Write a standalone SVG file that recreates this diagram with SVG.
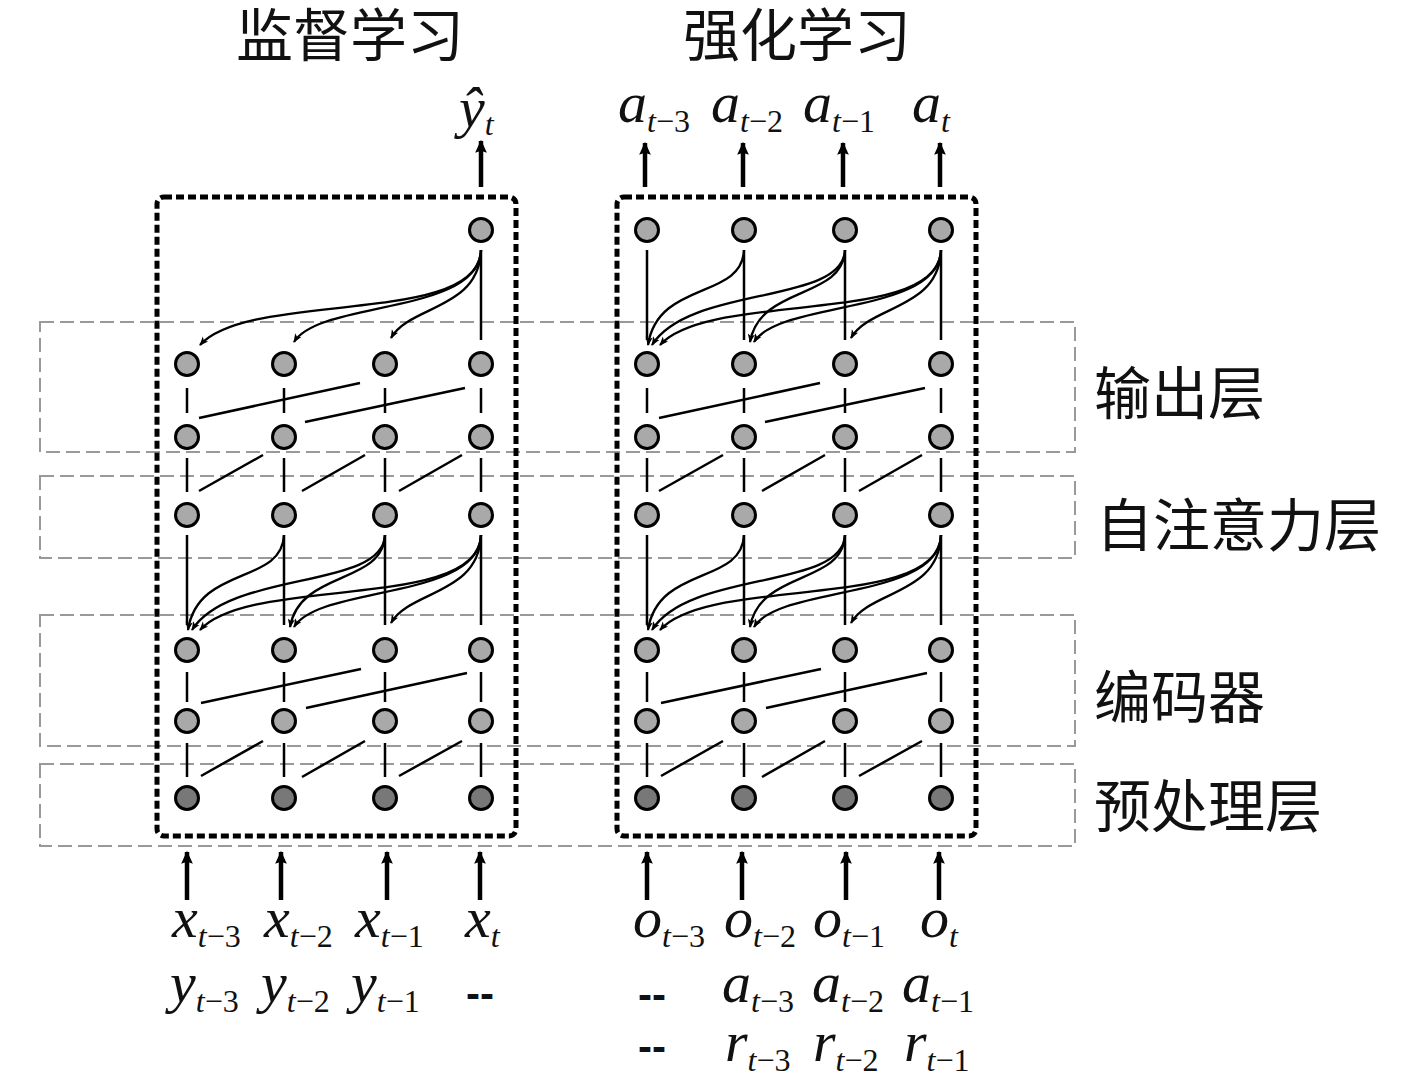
<svg xmlns="http://www.w3.org/2000/svg" width="1417" height="1092" viewBox="0 0 1417 1092">
<style>
.n{fill:#a9a9a9;stroke:#000;stroke-width:3}
.d{fill:#787878;stroke:#000;stroke-width:3}
.c{fill:none;stroke:#000;stroke-width:2.5}
.ca{fill:none;stroke:#000;stroke-width:2.3;marker-end:url(#ah)}
.io{fill:none;stroke:#000;stroke-width:4.5;marker-end:url(#big)}
.box{fill:none;stroke:#000;stroke-width:5;stroke-dasharray:8 4}
.lay{fill:none;stroke:#999;stroke-width:2;stroke-dasharray:14 6}
.cn{font-family:"Noto Sans CJK SC",sans-serif;font-size:57px;fill:#111}
.m{font-family:"Liberation Serif",serif;font-style:italic;font-size:58px;fill:#111}
.s{font-size:32px}
.sn{font-style:normal}
.dash{font-family:"Liberation Sans",sans-serif;font-weight:bold;font-size:42px;fill:#111}
</style>
<defs>
<marker id="ah" viewBox="0 0 10 10" refX="9" refY="5" markerWidth="11" markerHeight="9" markerUnits="userSpaceOnUse" orient="auto"><path d="M0,1 L10,5 L0,9 L2.5,5 z" fill="#000"/></marker>
<marker id="big" viewBox="0 0 10 10" refX="9" refY="5" markerWidth="16" markerHeight="13" markerUnits="userSpaceOnUse" orient="auto"><path d="M0,0.5 L10,5 L0,9.5 L1.5,5 z" fill="#000"/></marker>
</defs>
<rect width="1417" height="1092" fill="#fff"/>

<g id="titles">
<text class="cn" x="350" y="56" text-anchor="middle">监督学习</text>
<text class="cn" x="797" y="56" text-anchor="middle">强化学习</text>
</g>

<g id="layers">
<rect class="lay" x="40" y="322" width="1035" height="130"/>
<rect class="lay" x="40" y="476" width="1035" height="82"/>
<rect class="lay" x="40" y="615" width="1035" height="131"/>
<rect class="lay" x="40" y="764" width="1035" height="82"/>
<text class="cn" x="1094" y="414">输出层</text>
<text class="cn" x="1096" y="546">自注意力层</text>
<text class="cn" x="1094" y="718">编码器</text>
<text class="cn" x="1094" y="827">预处理层</text>
</g>

<g id="panels">
<rect class="box" x="157" y="197" width="359" height="639" rx="7"/>
<rect class="box" x="617" y="197" width="359" height="639" rx="7"/>
</g>

<g id="connectors">
<g id="left-conn">
<g id="attn-top-left" transform="translate(0,-285)">
<path class="c" d="M481,535 V625"/>
<path class="ca" d="M481,535 C479,612 250,575 200,630"/>
<path class="ca" d="M481,535 C479,600 320,585 294,627"/>
<path class="ca" d="M481,535 C479,595 410,590 391,623"/>
</g>
<path class="c" d="M187,388 V413 M284,388 V413 M385,388 V413 M481,388 V413"/>
<path class="c" d="M199,418 L360,383 M305,422 L465,388"/>
<path class="c" d="M187,458 V492 M284,458 V492 M385,458 V492 M481,458 V492"/>
<path class="c" d="M199,491 L263,455 M302,491 L365,455 M399,491 L462,455"/>
<g id="attn-mid-left">
<path class="c" d="M187,535 V625 M284,535 V625 M385,535 V625 M481,535 V625"/>
<path class="ca" d="M284,535 C282,585 198,565 188,630"/>
<path class="ca" d="M385,535 C383,590 230,570 192,630"/>
<path class="ca" d="M385,535 C383,585 300,570 290,627"/>
<path class="ca" d="M481,535 C479,612 250,575 200,630"/>
<path class="ca" d="M481,535 C479,600 320,585 294,627"/>
<path class="ca" d="M481,535 C479,595 410,590 391,623"/>
</g>
<path class="c" d="M187,672 V702 M284,672 V702 M385,672 V702 M481,672 V702"/>
<path class="c" d="M201,703 L361,669 M306,708 L467,673"/>
<path class="c" d="M187,743 V777 M284,743 V777 M385,743 V777 M481,743 V777"/>
<path class="c" d="M201,776 L263,741 M302,777 L365,741 M399,776 L462,741"/>
<path class="io" d="M481,187 V141"/>
<path class="io" d="M187,900 V852"/>
<path class="io" d="M281,900 V852"/>
<path class="io" d="M387,900 V852"/>
<path class="io" d="M480,900 V852"/>
</g>
<g id="right-conn" transform="translate(460,0)">
<g id="attn-top-right" transform="translate(0,-285)">
<path class="c" d="M187,535 V625 M284,535 V625 M385,535 V625 M481,535 V625"/>
<path class="ca" d="M284,535 C282,585 198,565 188,630"/>
<path class="ca" d="M385,535 C383,590 230,570 192,630"/>
<path class="ca" d="M385,535 C383,585 300,570 290,627"/>
<path class="ca" d="M481,535 C479,612 250,575 200,630"/>
<path class="ca" d="M481,535 C479,600 320,585 294,627"/>
<path class="ca" d="M481,535 C479,595 410,590 391,623"/>
</g>
<path class="c" d="M187,388 V413 M284,388 V413 M385,388 V413 M481,388 V413"/>
<path class="c" d="M199,418 L360,383 M305,422 L465,388"/>
<path class="c" d="M187,458 V492 M284,458 V492 M385,458 V492 M481,458 V492"/>
<path class="c" d="M199,491 L263,455 M302,491 L365,455 M399,491 L462,455"/>
<path class="c" d="M187,535 V625 M284,535 V625 M385,535 V625 M481,535 V625"/>
<path class="ca" d="M284,535 C282,585 198,565 188,630"/>
<path class="ca" d="M385,535 C383,590 230,570 192,630"/>
<path class="ca" d="M385,535 C383,585 300,570 290,627"/>
<path class="ca" d="M481,535 C479,612 250,575 200,630"/>
<path class="ca" d="M481,535 C479,600 320,585 294,627"/>
<path class="ca" d="M481,535 C479,595 410,590 391,623"/>
<path class="c" d="M187,672 V702 M284,672 V702 M385,672 V702 M481,672 V702"/>
<path class="c" d="M201,703 L361,669 M306,708 L467,673"/>
<path class="c" d="M187,743 V777 M284,743 V777 M385,743 V777 M481,743 V777"/>
<path class="c" d="M201,776 L263,741 M302,777 L365,741 M399,776 L462,741"/>
<path class="io" d="M185,187 V143"/>
<path class="io" d="M283,187 V143"/>
<path class="io" d="M383,187 V143"/>
<path class="io" d="M480,187 V143"/>
<path class="io" d="M187,900 V852"/>
<path class="io" d="M282,900 V852"/>
<path class="io" d="M386,900 V852"/>
<path class="io" d="M479,900 V852"/>
</g>
</g>

<g id="nodes-left">
<g id="L-top-3"><circle class="n" cx="481" cy="230" r="11.5"/></g>
<g id="L-1-0"><circle class="n" cx="187" cy="364" r="11.5"/></g>
<g id="L-1-1"><circle class="n" cx="284" cy="364" r="11.5"/></g>
<g id="L-1-2"><circle class="n" cx="385" cy="364" r="11.5"/></g>
<g id="L-1-3"><circle class="n" cx="481" cy="364" r="11.5"/></g>
<g id="L-2-0"><circle class="n" cx="187" cy="437" r="11.5"/></g>
<g id="L-2-1"><circle class="n" cx="284" cy="437" r="11.5"/></g>
<g id="L-2-2"><circle class="n" cx="385" cy="437" r="11.5"/></g>
<g id="L-2-3"><circle class="n" cx="481" cy="437" r="11.5"/></g>
<g id="L-3-0"><circle class="n" cx="187" cy="515" r="11.5"/></g>
<g id="L-3-1"><circle class="n" cx="284" cy="515" r="11.5"/></g>
<g id="L-3-2"><circle class="n" cx="385" cy="515" r="11.5"/></g>
<g id="L-3-3"><circle class="n" cx="481" cy="515" r="11.5"/></g>
<g id="L-4-0"><circle class="n" cx="187" cy="650" r="11.5"/></g>
<g id="L-4-1"><circle class="n" cx="284" cy="650" r="11.5"/></g>
<g id="L-4-2"><circle class="n" cx="385" cy="650" r="11.5"/></g>
<g id="L-4-3"><circle class="n" cx="481" cy="650" r="11.5"/></g>
<g id="L-5-0"><circle class="n" cx="187" cy="721" r="11.5"/></g>
<g id="L-5-1"><circle class="n" cx="284" cy="721" r="11.5"/></g>
<g id="L-5-2"><circle class="n" cx="385" cy="721" r="11.5"/></g>
<g id="L-5-3"><circle class="n" cx="481" cy="721" r="11.5"/></g>
<g id="L-6-0"><circle class="d" cx="187" cy="798" r="11.5"/></g>
<g id="L-6-1"><circle class="d" cx="284" cy="798" r="11.5"/></g>
<g id="L-6-2"><circle class="d" cx="385" cy="798" r="11.5"/></g>
<g id="L-6-3"><circle class="d" cx="481" cy="798" r="11.5"/></g>
</g>

<g id="nodes-right">
<g id="R-0-0"><circle class="n" cx="647" cy="230" r="11.5"/></g>
<g id="R-0-1"><circle class="n" cx="744" cy="230" r="11.5"/></g>
<g id="R-0-2"><circle class="n" cx="845" cy="230" r="11.5"/></g>
<g id="R-0-3"><circle class="n" cx="941" cy="230" r="11.5"/></g>
<g id="R-1-0"><circle class="n" cx="647" cy="364" r="11.5"/></g>
<g id="R-1-1"><circle class="n" cx="744" cy="364" r="11.5"/></g>
<g id="R-1-2"><circle class="n" cx="845" cy="364" r="11.5"/></g>
<g id="R-1-3"><circle class="n" cx="941" cy="364" r="11.5"/></g>
<g id="R-2-0"><circle class="n" cx="647" cy="437" r="11.5"/></g>
<g id="R-2-1"><circle class="n" cx="744" cy="437" r="11.5"/></g>
<g id="R-2-2"><circle class="n" cx="845" cy="437" r="11.5"/></g>
<g id="R-2-3"><circle class="n" cx="941" cy="437" r="11.5"/></g>
<g id="R-3-0"><circle class="n" cx="647" cy="515" r="11.5"/></g>
<g id="R-3-1"><circle class="n" cx="744" cy="515" r="11.5"/></g>
<g id="R-3-2"><circle class="n" cx="845" cy="515" r="11.5"/></g>
<g id="R-3-3"><circle class="n" cx="941" cy="515" r="11.5"/></g>
<g id="R-4-0"><circle class="n" cx="647" cy="650" r="11.5"/></g>
<g id="R-4-1"><circle class="n" cx="744" cy="650" r="11.5"/></g>
<g id="R-4-2"><circle class="n" cx="845" cy="650" r="11.5"/></g>
<g id="R-4-3"><circle class="n" cx="941" cy="650" r="11.5"/></g>
<g id="R-5-0"><circle class="n" cx="647" cy="721" r="11.5"/></g>
<g id="R-5-1"><circle class="n" cx="744" cy="721" r="11.5"/></g>
<g id="R-5-2"><circle class="n" cx="845" cy="721" r="11.5"/></g>
<g id="R-5-3"><circle class="n" cx="941" cy="721" r="11.5"/></g>
<g id="R-6-0"><circle class="d" cx="647" cy="798" r="11.5"/></g>
<g id="R-6-1"><circle class="d" cx="744" cy="798" r="11.5"/></g>
<g id="R-6-2"><circle class="d" cx="845" cy="798" r="11.5"/></g>
<g id="R-6-3"><circle class="d" cx="941" cy="798" r="11.5"/></g>
</g>

<g id="labels-top">
<text class="m" x="459" y="127">ŷ<tspan class="s" dy="8">t</tspan></text>
<text class="m" x="618" y="122">a<tspan class="s" dy="10">t<tspan class="sn">−3</tspan></tspan></text>
<text class="m" x="711" y="122">a<tspan class="s" dy="10">t<tspan class="sn">−2</tspan></tspan></text>
<text class="m" x="803" y="122">a<tspan class="s" dy="10">t<tspan class="sn">−1</tspan></tspan></text>
<text class="m" x="912" y="122">a<tspan class="s" dy="10">t</tspan></text>
</g>

<g id="labels-bottom">
<text class="m" x="172" y="937">x<tspan class="s" dy="10">t<tspan class="sn">−3</tspan></tspan></text>
<text class="m" x="264" y="937">x<tspan class="s" dy="10">t<tspan class="sn">−2</tspan></tspan></text>
<text class="m" x="355" y="937">x<tspan class="s" dy="10">t<tspan class="sn">−1</tspan></tspan></text>
<text class="m" x="465" y="937">x<tspan class="s" dy="10">t</tspan></text>
<text class="m" x="170" y="1002">y<tspan class="s" dy="10">t<tspan class="sn">−3</tspan></tspan></text>
<text class="m" x="261" y="1002">y<tspan class="s" dy="10">t<tspan class="sn">−2</tspan></tspan></text>
<text class="m" x="351" y="1002">y<tspan class="s" dy="10">t<tspan class="sn">−1</tspan></tspan></text>
<text class="dash" x="466" y="1008">--</text>
<text class="m" x="633" y="937">o<tspan class="s" dy="10">t<tspan class="sn">−3</tspan></tspan></text>
<text class="m" x="724" y="937">o<tspan class="s" dy="10">t<tspan class="sn">−2</tspan></tspan></text>
<text class="m" x="813" y="937">o<tspan class="s" dy="10">t<tspan class="sn">−1</tspan></tspan></text>
<text class="m" x="920" y="937">o<tspan class="s" dy="10">t</tspan></text>
<text class="dash" x="638" y="1009">--</text>
<text class="m" x="722" y="1002">a<tspan class="s" dy="10">t<tspan class="sn">−3</tspan></tspan></text>
<text class="m" x="812" y="1002">a<tspan class="s" dy="10">t<tspan class="sn">−2</tspan></tspan></text>
<text class="m" x="902" y="1002">a<tspan class="s" dy="10">t<tspan class="sn">−1</tspan></tspan></text>
<text class="dash" x="638" y="1061">--</text>
<text class="m" x="725" y="1061">r<tspan class="s" dy="10">t<tspan class="sn">−3</tspan></tspan></text>
<text class="m" x="813" y="1061">r<tspan class="s" dy="10">t<tspan class="sn">−2</tspan></tspan></text>
<text class="m" x="904" y="1061">r<tspan class="s" dy="10">t<tspan class="sn">−1</tspan></tspan></text>
</g>
</svg>
